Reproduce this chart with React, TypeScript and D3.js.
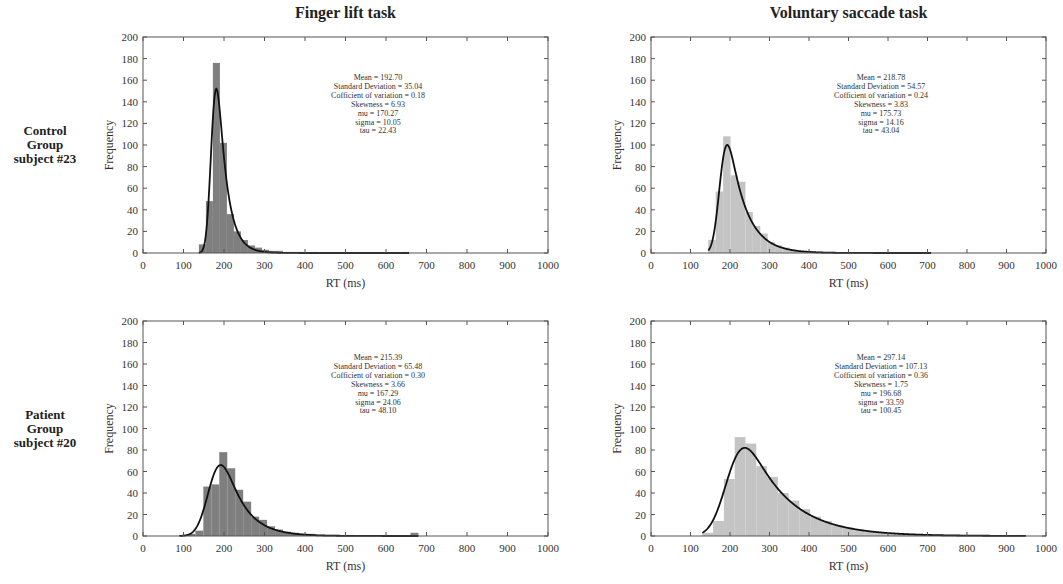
import React from 'react'
import * as d3 from 'd3'

const W = 1063
const H = 584

const taskTitles = ['Finger lift task', 'Voluntary saccade task']
const groupLabels = [
  ['Control', 'Group', 'subject #23'],
  ['Patient', 'Group', 'subject #20'],
]

const xTicks = [0, 100, 200, 300, 400, 500, 600, 700, 800, 900, 1000]
const yTicks = [0, 20, 40, 60, 80, 100, 120, 140, 160, 180, 200]

// 30-bin histograms, panel order: top-left, top-right, bottom-left, bottom-right
const binStart = [138, 145, 90, 130]
const binWidth = [17.3, 18.8, 19.67, 27.3]
const countsFingerControl = [8, 48, 176, 102, 36, 20, 12, 7, 5, 3, 2, 2, 1, 1, 1, 0, 1, 0, 0, 0, 0, 0, 0, 0, 0, 0, 0, 0, 0, 1]
const countsSaccadeControl = [12, 57, 108, 72, 66, 38, 25, 18, 10, 7, 5, 3, 2, 2, 1, 1, 1, 0, 1, 0, 0, 0, 0, 0, 0, 0, 0, 0, 0, 1]
const countsFingerPatient = [1, 2, 5, 46, 48, 78, 63, 43, 32, 18, 15, 9, 6, 4, 3, 2, 2, 1, 1, 1, 0, 1, 0, 0, 0, 0, 0, 0, 0, 3]
const countsSaccadePatient = [3, 14, 53, 92, 86, 65, 55, 40, 33, 25, 18, 14, 10, 8, 6, 4, 3, 3, 2, 2, 1, 1, 1, 0, 1, 0, 0, 0, 0, 1]

const statMean = ['192.70', '218.78', '215.39', '297.14']
const statSD = ['35.04', '54.57', '65.48', '107.13']
const statCV = ['0.18', '0.24', '0.30', '0.36']
const statSkew = ['6.93', '3.83', '3.66', '1.75']
const statMu = [170.27, 175.73, 167.29, 196.68]
const statSigma = [10.05, 14.16, 24.06, 33.59]
const statTau = [22.43, 43.04, 48.1, 100.45]
const curvePeak = [152, 100, 66, 82]

const barColors = ['#7f7f7f', '#c4c4c4', '#7f7f7f', '#c4c4c4']
const font = '"Liberation Serif", "Times New Roman", serif'

// layout of each panel (plot box)
const colX = [
  [143, 548],
  [651, 1046],
]
const rowY = [
  [37, 253],
  [321, 536],
]

function erf(x: number) {
  const s = x < 0 ? -1 : 1
  x = Math.abs(x)
  const t = 1 / (1 + 0.3275911 * x)
  const y =
    1 -
    ((((1.061405429 * t - 1.453152027) * t + 1.421413741) * t - 0.284496736) * t + 0.254829592) *
      t *
      Math.exp(-x * x)
  return s * y
}
const normCdf = (z: number) => 0.5 * (1 + erf(z / Math.SQRT2))

function exGauss(x: number, mu: number, sigma: number, tau: number) {
  return (
    (1 / tau) *
    Math.exp((sigma * sigma) / (2 * tau * tau) - (x - mu) / tau) *
    normCdf((x - mu) / sigma - sigma / tau)
  )
}

const Panel = ({ idx, counts }: { idx: number; counts: number[] }) => {
  const col = idx % 2
  const row = Math.floor(idx / 2)
  const x = d3.scaleLinear().domain([0, 1000]).range(colX[col])
  const y = d3.scaleLinear().domain([0, 200]).range([rowY[row][1], rowY[row][0]])

  const bins = counts.map((c, i) => ({
    x0: binStart[idx] + i * binWidth[idx],
    x1: binStart[idx] + (i + 1) * binWidth[idx],
    c,
  }))

  const lo = binStart[idx]
  const hi = binStart[idx] + counts.length * binWidth[idx]
  const xs = d3.range(lo, hi + 0.5, 1)
  const raw = xs.map((v) => exGauss(v, statMu[idx], statSigma[idx], statTau[idx]))
  const mx = d3.max(raw) as number
  const pts: [number, number][] = xs.map((v, i) => [v, (raw[i] / mx) * curvePeak[idx]])
  const line = d3
    .line<[number, number]>()
    .x((d) => x(d[0]))
    .y((d) => y(d[1]))

  const [x0, x1] = colX[col]
  const [yt, yb] = rowY[row]
  const axisColor = '#555'
  const tick = 4

  const stats = [
    `Mean = ${statMean[idx]}`,
    `Standard Deviation = ${statSD[idx]}`,
    `Cofficient of variation = ${statCV[idx]}`,
    `Skewness = ${statSkew[idx]}`,
    `mu = ${statMu[idx].toFixed(2)}`,
    `sigma = ${statSigma[idx].toFixed(2)}`,
    `tau = ${statTau[idx].toFixed(2)}`,
  ]
  const statX = col === 0 ? 378 : 881
  const statY = row === 0 ? 80 : 360

  return (
    <g>
      {bins.map((b, i) => (
        <rect
          key={i}
          x={x(b.x0)}
          y={y(b.c)}
          width={x(b.x1) - x(b.x0)}
          height={y(0) - y(b.c)}
          fill={barColors[idx]}
        />
      ))}
      <path d={line(pts) as string} fill="none" stroke="#111" strokeWidth={1.8} />
      <rect x={x0} y={yt} width={x1 - x0} height={yb - yt} fill="none" stroke={axisColor} strokeWidth={1} />
      {xTicks.map((t) => (
        <g key={'x' + t}>
          <line x1={x(t)} x2={x(t)} y1={yb} y2={yb - tick} stroke={axisColor} />
          <line x1={x(t)} x2={x(t)} y1={yt} y2={yt + tick} stroke={axisColor} />
          <text x={x(t)} y={yb + 16} textAnchor="middle" fontSize={11} fill="#333">
            {t}
          </text>
        </g>
      ))}
      {yTicks.map((t) => (
        <g key={'y' + t}>
          <line x1={x0} x2={x0 + tick} y1={y(t)} y2={y(t)} stroke={axisColor} />
          <line x1={x1} x2={x1 - tick} y1={y(t)} y2={y(t)} stroke={axisColor} />
          <text x={x0 - 5} y={y(t) + 4} textAnchor="end" fontSize={11} fill="#333">
            {t}
          </text>
        </g>
      ))}
      <text x={(x0 + x1) / 2} y={yb + 34} textAnchor="middle" fontSize={12} fill="#333">
        RT (ms)
      </text>
      <text
        transform={`translate(${x0 - 30},${(yt + yb) / 2}) rotate(-90)`}
        textAnchor="middle"
        fontSize={12}
        fill="#333"
      >
        Frequency
      </text>
      {stats.map((s, i) => (
        <text key={s} x={statX} y={statY + i * 8.9} textAnchor="middle" fontSize={8} fill="#333">
          {s}
        </text>
      ))}
    </g>
  )
}

const App = () => {
  const panels = [countsFingerControl, countsSaccadeControl, countsFingerPatient, countsSaccadePatient]
  return (
    <svg
      width={W}
      height={H}
      style={{ position: 'absolute', left: 0, top: 0, background: '#fff' }}
      fontFamily={font}
    >
      <rect width={W} height={H} fill="#fff" />
      {taskTitles.map((t, i) => (
        <text
          key={t}
          x={(colX[i][0] + colX[i][1]) / 2}
          y={18}
          textAnchor="middle"
          fontSize={16}
          fontWeight="bold"
          fill="#222"
        >
          {t}
        </text>
      ))}
      {groupLabels.map((lines, r) =>
        lines.map((l, j) => (
          <text
            key={r + l}
            x={45}
            y={(r === 0 ? 135 : 419) + j * 14}
            textAnchor="middle"
            fontSize={13}
            fontWeight="bold"
            fill="#222"
          >
            {l}
          </text>
        ))
      )}
      {panels.map((c, i) => (
        <Panel key={i} idx={i} counts={c} />
      ))}
    </svg>
  )
}

export default App
